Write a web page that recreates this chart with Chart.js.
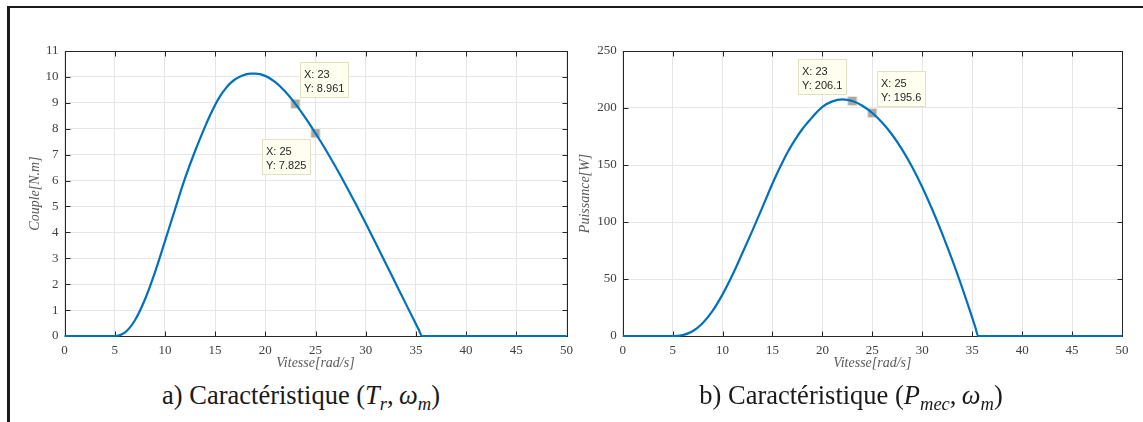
<!DOCTYPE html>
<html>
<head>
<meta charset="utf-8">
<script src="https://cdn.jsdelivr.net/npm/chart.js@4.4.1/dist/chart.umd.min.js"></script>
<style>
  html, body { margin: 0; padding: 0; background: #fff; }
  #page { position: relative; width: 1143px; height: 422px; overflow: hidden; }
  #frame { position: absolute; left: 7px; top: 6px; right: -10px; bottom: -10px;
           border-top: 2px solid #1a1a1a; border-left: 3px solid #1a1a1a; }
  canvas { position: absolute; top: 0; }
  #cA { left: 0; }
  #cB { left: 570px; }
  .cap { position: absolute; top: 382px; font-family: "Liberation Serif", "Times New Roman", serif;
         font-size: 26.5px; line-height: 26.5px; color: #1a1a1a; white-space: nowrap;
         transform: translateX(-50%); }
  .cap sub { font-size: 70%; vertical-align: -0.3em; line-height: 0; }
  .cap .m { font-style: italic; }
</style>
</head>
<body>
<div id="page">
  <div id="frame"></div>
  <canvas id="cA" width="580" height="380"></canvas>
  <canvas id="cB" width="573" height="380"></canvas>
  <div class="cap" style="left:301px">a) Caractéristique (<span class="m">T<sub>r</sub></span>,&thinsp;<span class="m">ω<sub>m</sub></span>)</div>
  <div class="cap" style="left:851px">b) Caractéristique (<span class="m">P<sub>mec</sub></span>,&thinsp;<span class="m">ω<sub>m</sub></span>)</div>
</div>
<script>
// vitesse [rad/s]
const omega = [0, 5, 6, 7, 8, 9, 10, 11, 12, 13, 14, 14.5, 15, 15.5, 16, 16.5, 17, 17.5, 18, 18.5, 19,
  20, 21, 22, 23, 24, 25, 26, 27, 28, 29, 30, 31, 32, 33, 34, 35, 35.3, 35.6, 50];
// couple [N.m]
const couple = [0, 0, 0.13, 0.6, 1.4, 2.45, 3.65, 4.88, 6.08, 7.13, 8.08, 8.52, 8.92, 9.26, 9.53, 9.75,
  9.91, 10.02, 10.09, 10.13, 10.13,
  10.04, 9.8, 9.43, 8.961, 8.42, 7.825, 7.2, 6.53, 5.83, 5.1, 4.35, 3.58, 2.8, 2.02, 1.24, 0.46, 0.23, 0, 0];
// puissance [W]
const puissance = [0, 0, 0.8, 4.2, 11.2, 22, 36.5, 53.7, 73, 92.7, 113, 123.5, 133.8, 143.5, 152.5, 160.9,
  168.5, 175.4, 181.6, 187, 192.2,
  201, 205.8, 207.5, 206.1, 202, 195.6, 187, 176.3, 163.2, 148, 130.5, 111, 89.6, 66.7, 42.2, 16.1, 8.1, 0, 0];

// data tips
const tipOmega = [23, 25];
const tipCouple = [8.961, 7.825];
const tipPuissance = [206.1, 195.6];

const BLUE = '#0072BD';
const serif = '"Liberation Serif", "Times New Roman", serif';

// MATLAB-like box with inward ticks
const matlabBox = {
  id: 'matlabBox',
  beforeDatasetsDraw(chart) {
    const { ctx, chartArea: a, scales: { x, y } } = chart;
    const L = Math.round(a.left) + 0.5, R = Math.round(a.right) + 0.5;
    const T = Math.round(a.top) + 0.5, B = Math.round(a.bottom) + 0.5;
    ctx.save();
    ctx.strokeStyle = '#262626';
    ctx.lineWidth = 1;
    ctx.strokeRect(L, T, R - L, B - T);
    ctx.beginPath();
    x.ticks.forEach(t => {
      const px = Math.round(x.getPixelForValue(t.value)) + 0.5;
      ctx.moveTo(px, B); ctx.lineTo(px, B - 5);
      ctx.moveTo(px, T); ctx.lineTo(px, T + 5);
    });
    y.ticks.forEach(t => {
      const py = Math.round(y.getPixelForValue(t.value)) + 0.5;
      ctx.moveTo(L, py); ctx.lineTo(L + 5, py);
      ctx.moveTo(R, py); ctx.lineTo(R - 5, py);
    });
    ctx.stroke();
    ctx.restore();
  }
};

// datatip boxes next to the markers
const dataTips = {
  id: 'dataTips',
  afterDraw(chart, args, opts) {
    const meta = chart.getDatasetMeta(1);
    const pts = chart.data.datasets[1].data;
    const ctx = chart.ctx;
    ctx.save();
    ctx.font = '11px "Liberation Sans", Arial, sans-serif';
    meta.data.forEach((el, i) => {
      const l1 = 'X: ' + pts[i].x, l2 = 'Y: ' + pts[i].y;
      const w = Math.round(Math.max(ctx.measureText(l1).width, ctx.measureText(l2).width) + 9);
      const h = 36;
      const side = opts.sides[i];
      const bx = Math.round(side[1] === 'r' ? el.x + 5 : el.x - 5 - w);
      const by = Math.round(side[0] === 'u' ? el.y - 6 - h : el.y + 6);
      ctx.fillStyle = '#fffff0';
      ctx.fillRect(bx, by, w, h);
      ctx.strokeStyle = '#e3dfc4';
      ctx.lineWidth = 1;
      ctx.strokeRect(bx + 0.5, by + 0.5, w - 1, h - 1);
      ctx.fillStyle = '#262626';
      ctx.textBaseline = 'alphabetic';
      ctx.fillText(l1, bx + 4, by + 16);
      ctx.fillText(l2, bx + 4, by + 29.5);
    });
    ctx.restore();
  }
};

function makeChart(id, yVals, tipY, cfg) {
  new Chart(document.getElementById(id), {
    data: {
      datasets: [{
        type: 'line',
        data: omega.map((w, i) => ({ x: w, y: yVals[i] })),
        borderColor: BLUE,
        borderWidth: 2.2,
        pointRadius: 0,
        cubicInterpolationMode: 'monotone',
        clip: 4
      }, {
        type: 'scatter',
        data: tipOmega.map((w, i) => ({ x: w, y: tipY[i] })),
        pointStyle: 'rect',
        pointRadius: 6.5,
        backgroundColor: '#a9a9a9',
        borderColor: '#ece6c8',
        borderWidth: 1,
        clip: false
      }]
    },
    options: {
      responsive: false,
      animation: false,
      devicePixelRatio: 1,
      layout: { padding: { top: 51, right: cfg.padRight, left: 0, bottom: 0 } },
      plugins: {
        legend: { display: false },
        tooltip: { enabled: false },
        dataTips: { sides: cfg.sides }
      },
      scales: {
        x: {
          type: 'linear',
          min: 0, max: 50,
          afterFit: s => { s.height = 44; },
          ticks: { stepSize: 5, padding: 7, color: '#404040', font: { family: serif, size: 13 } },
          grid: { color: '#e6e6e6', drawTicks: false },
          border: { display: false },
          title: { display: true, text: 'Vitesse[rad/s]', color: '#5a5a5a',
                   font: { family: serif, size: 14, style: 'italic' }, padding: { top: 0, bottom: 8.6 } }
        },
        y: {
          min: 0, max: cfg.yMax,
          afterFit: s => { s.width = cfg.yWidth; },
          ticks: { stepSize: cfg.yStep, padding: 6, color: '#404040', font: { family: serif, size: 13 } },
          grid: { color: '#e6e6e6', drawTicks: false },
          border: { display: false },
          title: { display: true, text: cfg.yTitle, color: '#5a5a5a',
                   font: { family: serif, size: 14, style: 'italic' }, padding: { top: cfg.yTitlePad, bottom: 0 } }
        }
      }
    },
    plugins: [matlabBox, dataTips]
  });
}

makeChart('cA', couple, tipCouple,
  { yMax: 11, yStep: 1, yWidth: 64.5, padRight: 9, yTitle: 'Couple[N.m]', yTitlePad: 27, sides: ['ur', 'dl'] });
makeChart('cB', puissance, tipPuissance,
  { yMax: 250, yStep: 50, yWidth: 52.7, padRight: 21, yTitle: 'Puissance[W]', yTitlePad: 6.6, sides: ['ul', 'ur'] });
</script>
</body>
</html>
